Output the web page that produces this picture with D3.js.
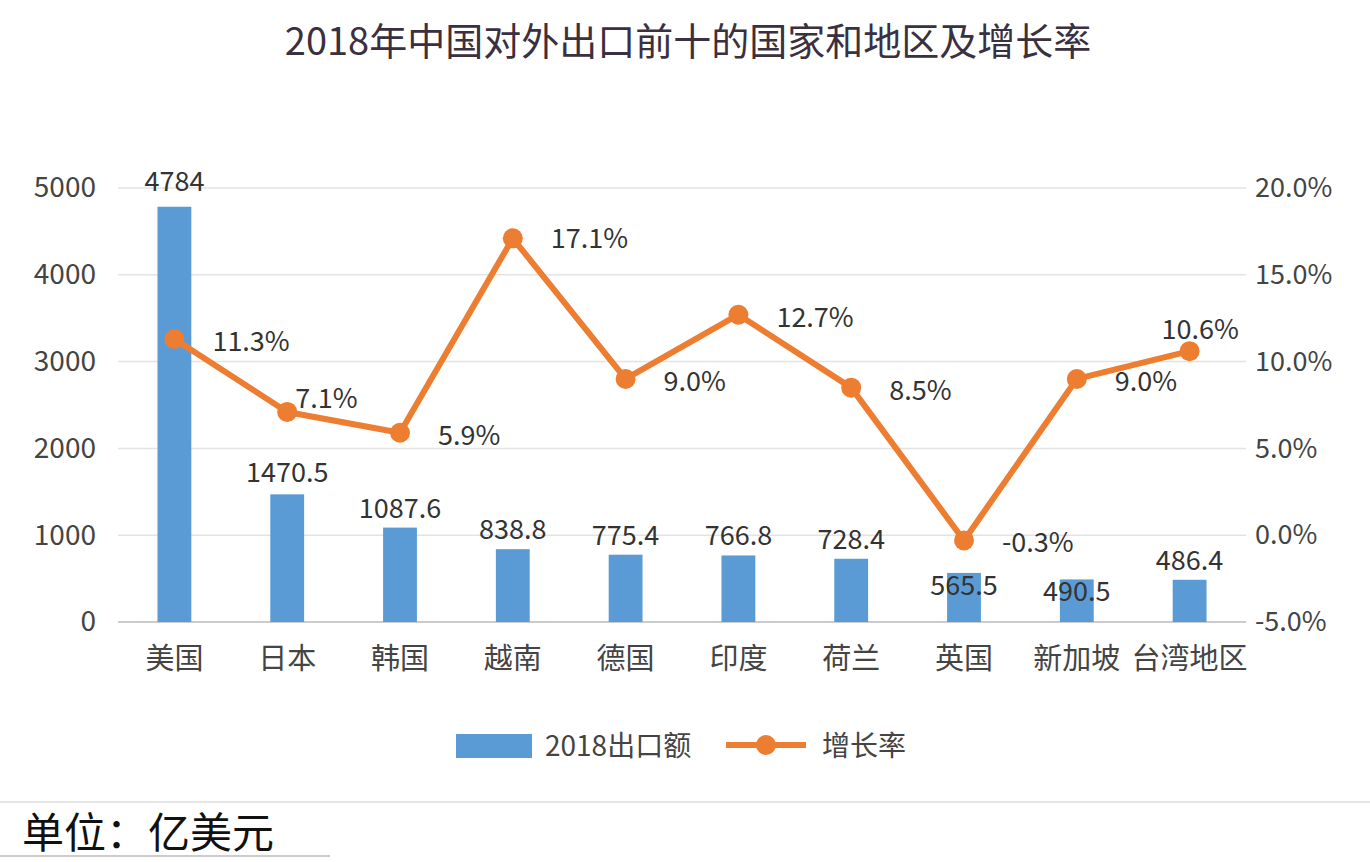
<!DOCTYPE html><html><head><meta charset="utf-8">
<script src="https://cdn.jsdelivr.net/npm/d3@7"></script>
<style>body{margin:0;background:#fff}text{font-family:"Noto Sans CJK SC","Noto Sans",sans-serif}</style></head><body>
<svg id="c" width="1370" height="862"></svg>
<script>
const categories=["美国","日本","韩国","越南","德国","印度","荷兰","英国","新加坡","台湾地区"];
const exports2018=[4784,1470.5,1087.6,838.8,775.4,766.8,728.4,565.5,490.5,486.4];
const exportLabels=["4784","1470.5","1087.6","838.8","775.4","766.8","728.4","565.5","490.5","486.4"];
const growth=[11.3,7.1,5.9,17.1,9.0,12.7,8.5,-0.3,9.0,10.6];
const leftTicks=[0,1000,2000,3000,4000,5000];
const rightTicks=[-5,0,5,10,15,20];
const svg=d3.select("#c");
const x=d3.scaleBand().domain(categories).range([118,1246]).paddingInner(0.7).paddingOuter(0.35);
const y=d3.scaleLinear().domain([0,5000]).range([622,188]);
const y2=d3.scaleLinear().domain([-5,20]).range([622,188]);
const g=svg.append("g");
leftTicks.forEach(t=>g.append("line").attr("x1",118).attr("x2",1246).attr("y1",y(t)).attr("y2",y(t)).attr("stroke",t==0?"#bbb":"#e3e3e3").attr("stroke-width",1.5));
svg.append("text").attr("x",688).attr("y",55).attr("text-anchor","middle").attr("font-size",38).attr("fill","#3a3040").text("2018年中国对外出口前十的国家和地区及增长率");
const la=svg.append("g").attr("transform","translate(96,0)").call(d3.axisLeft(y).tickValues(leftTicks).tickSize(0).tickPadding(0).tickFormat(d3.format("d")));
la.select(".domain").remove();la.selectAll("text").attr("font-size",28).attr("fill","#444");
const ra=svg.append("g").attr("transform","translate(1255,0)").call(d3.axisRight(y2).tickValues(rightTicks).tickSize(0).tickPadding(0).tickFormat(d=>d.toFixed(1)+"%"));
ra.select(".domain").remove();ra.selectAll("text").attr("font-size",27).attr("fill","#444");
const xa=svg.append("g").attr("transform","translate(0,640)").call(d3.axisBottom(x).tickSize(0).tickPadding(8));
xa.select(".domain").remove();xa.selectAll("text").attr("font-size",29).attr("fill","#444");
svg.selectAll(".bar").data(exports2018).join("rect").attr("x",(d,i)=>x(categories[i])).attr("width",x.bandwidth()).attr("y",d=>y(d)).attr("height",d=>622-y(d)).attr("fill","#5b9bd5");
const bdy=[-16,-12,-10,-10,-10,-10,-10,22,22,-10];
svg.selectAll(".bl").data(exports2018).join("text").attr("x",(d,i)=>x(categories[i])+x.bandwidth()/2).attr("y",(d,i)=>y(d)+bdy[i]).attr("text-anchor","middle").attr("font-size",27).attr("fill","#333").text((d,i)=>exportLabels[i]);
const cx=i=>x(categories[i])+x.bandwidth()/2;
svg.append("path").datum(growth).attr("d",d3.line().x((d,i)=>cx(i)).y(d=>y2(d))).attr("fill","none").attr("stroke","#ed7d31").attr("stroke-width",6).attr("stroke-linejoin","round");
svg.selectAll(".pt").data(growth).join("circle").attr("cx",(d,i)=>cx(i)).attr("cy",d=>y2(d)).attr("r",10).attr("fill","#ed7d31");
const ldx=[38,8,38,38,38,38,38,38,38,-28],ldy=[12,-4,12,10,12,12,12,12,12,-12];
svg.selectAll(".gl").data(growth).join("text").attr("x",(d,i)=>cx(i)+ldx[i]).attr("y",(d,i)=>y2(d)+ldy[i]).attr("font-size",27).attr("fill","#333").text(d=>d.toFixed(1)+"%");
svg.append("rect").attr("x",456).attr("y",734).attr("width",76).attr("height",24).attr("fill","#5b9bd5");
svg.append("text").attr("x",545).attr("y",756).attr("font-size",28).attr("fill","#444").text("2018出口额");
svg.append("line").attr("x1",726).attr("x2",806).attr("y1",745).attr("y2",745).attr("stroke","#ed7d31").attr("stroke-width",6);
svg.append("circle").attr("cx",766).attr("cy",745).attr("r",10).attr("fill","#ed7d31");
svg.append("text").attr("x",822).attr("y",756).attr("font-size",28).attr("fill","#444").text("增长率");
svg.append("line").attr("x1",0).attr("x2",1370).attr("y1",802).attr("y2",802).attr("stroke","#ccc");
svg.append("line").attr("x1",0).attr("x2",330).attr("y1",856).attr("y2",856).attr("stroke","#999");
svg.append("text").attr("x",22).attr("y",848).attr("font-size",42).attr("fill","#111").text("单位：亿美元");
</script></body></html>
